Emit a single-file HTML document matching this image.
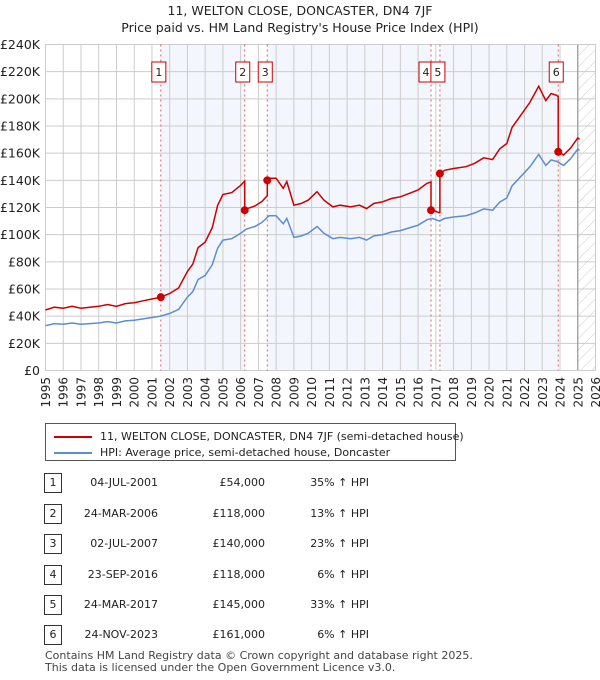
<!DOCTYPE html>
<html><head><meta charset="utf-8"><style>
body{margin:0;background:#fff;font-family:"Liberation Sans","DejaVu Sans",sans-serif;}
#wrap{position:relative;width:600px;height:680px;overflow:hidden;}
svg text{font-family:"DejaVu Sans","Liberation Sans",sans-serif;}
</style></head><body><div id="wrap">
<svg id="chart" width="600" height="680">
<text x="300" y="15" text-anchor="middle" font-size="12.5" fill="#222">11, WELTON CLOSE, DONCASTER, DN4 7JF</text>
<text x="300" y="32" text-anchor="middle" font-size="12.5" fill="#222">Price paid vs. HM Land Registry's House Price Index (HPI)</text>
</svg>
</div>
<script>
const hpiYears=[1995,1995.5,1996,1996.5,1997,1997.5,1998,1998.5,1999,1999.5,2000,2000.5,2001,2001.5,2002,2002.5,2003,2003.3,2003.6,2004,2004.4,2004.7,2005,2005.5,2006,2006.3,2006.8,2007.2,2007.6,2008,2008.4,2008.6,2009,2009.4,2009.8,2010.3,2010.7,2011.2,2011.6,2012.2,2012.7,2013.1,2013.5,2014,2014.5,2015,2015.5,2016,2016.5,2016.8,2017.2,2017.5,2018,2018.7,2019.2,2019.7,2020.2,2020.6,2021,2021.3,2021.8,2022.3,2022.8,2023.2,2023.5,2023.8,2024.2,2024.6,2025,2025.1];
const hpiValues=[33,34.5,34,35,34,34.5,35,36,35,36.5,37,38,39,40,42,45,54,58,67,70,78,90,96,97,101,104,106,109,114,114,108,112,98,99,101,106,101,97,98,97,98,96,99,100,102,103,105,107,111,112,110,112,113,114,116,119,118,124,127,136,143,150,159,151,155,154,151,156,163,162];
const saleYears=[2001.5,2006.23,2007.5,2016.73,2017.23,2023.9];
const salePrices=[54,118,140,118,145,161];
const saleLabels=["1","2","3","4","5","6"];
const yTicks=[0,20,40,60,80,100,120,140,160,180,200,220,240];
const yTickLabels=["£0","£20K","£40K","£60K","£80K","£100K","£120K","£140K","£160K","£180K","£200K","£220K","£240K"];
const xTicks=[1995,1996,1997,1998,1999,2000,2001,2002,2003,2004,2005,2006,2007,2008,2009,2010,2011,2012,2013,2014,2015,2016,2017,2018,2019,2020,2021,2022,2023,2024,2025,2026];
const dataEnd=2025.0;

const L=45.5,R=595.5,T=44.5,B=370.5;
const X=y=>L+(y-1995)/(2026-1995)*(R-L);
const Y=v=>B-v/240*(B-T);
const NS="http://www.w3.org/2000/svg";
const svg=document.getElementById('chart');
function mk(tag,attrs,parent){const e=document.createElementNS(NS,tag);for(const k in attrs)e.setAttribute(k,attrs[k]);(parent||svg).appendChild(e);return e;}
function hpiAt(t){for(let i=0;i<hpiYears.length-1;i++){if(t<=hpiYears[i+1]){const f=(t-hpiYears[i])/(hpiYears[i+1]-hpiYears[i]);return hpiValues[i]+f*(hpiValues[i+1]-hpiValues[i]);}}return hpiValues[hpiValues.length-1];}

const defs=mk('defs',{});
const pat=mk('pattern',{id:'hatch',width:8,height:8,patternUnits:'userSpaceOnUse',patternTransform:'rotate(45)'},defs);
mk('line',{x1:0,y1:0,x2:0,y2:8,stroke:'#ccc','stroke-width':1},pat);

const bg=mk('rect',{x:L,y:T,width:R-L,height:B-T,fill:'#fff'});


for(let i=0;i<saleYears.length;i+=2){
  const end=i+1<saleYears.length?saleYears[i+1]:dataEnd;
  const r=mk('rect',{x:X(saleYears[i]),y:T,width:X(end)-X(saleYears[i]),height:B-T,fill:'#f3f6fd'});
  
  
}
const h=mk('rect',{x:X(dataEnd),y:T,width:R-X(dataEnd),height:B-T,fill:'url(#hatch)'});



yTicks.forEach((v,i)=>{
  const g=mk('line',{x1:L,x2:R,y1:Y(v),y2:Y(v),stroke:'#cccccc','stroke-width':1});
  
  
  const t=mk('text',{x:40,y:Y(v)+4.5,'text-anchor':'end','font-size':12.5,fill:'#222'});
  t.textContent=yTickLabels[i];
  
  
});
xTicks.forEach((yr,i)=>{
  const g=mk('line',{x1:X(yr),x2:X(yr),y1:T,y2:B,stroke:'#cccccc','stroke-width':1});
  
  
  const tx=X(yr)+4.5,ty=377;
  const t=mk('text',{x:tx,y:ty,'text-anchor':'end','font-size':12,fill:'#222',transform:'rotate(-90 '+tx+' '+ty+')'});
  t.textContent=String(yr);
  
  
});
const dl=mk('line',{x1:X(dataEnd),x2:X(dataEnd),y1:T,y2:B,stroke:'#999','stroke-width':1.2});


const fr=mk('rect',{x:L,y:T,width:R-L,height:B-T,fill:'none',stroke:'#ccc'});



saleYears.forEach(s=>{
  const l=mk('line',{x1:X(s),x2:X(s),y1:T,y2:B,stroke:'#e06060','stroke-width':1,'stroke-dasharray':'2,3'});
  
  
});

const bp=hpiYears.map((y,i)=>X(y).toFixed(1)+','+Y(hpiValues[i]).toFixed(1)).join(' ');
const bl=mk('polyline',{points:bp,fill:'none',stroke:'#5b8ed0','stroke-width':1.5});



const ratios=saleYears.map((s,i)=>salePrices[i]/hpiAt(s));
let pts=[];
function ratioFor(t){let k=0;for(let i=0;i<saleYears.length;i++)if(saleYears[i]<=t)k=i;return ratios[k];}
let times=hpiYears.slice();
saleYears.forEach(s=>{times.push(s-0.001);times.push(s);});
times.sort((a,b)=>a-b);
times.forEach(t=>{pts.push(X(t).toFixed(1)+','+Y(hpiAt(t)*ratioFor(t)).toFixed(1));});
const rl=mk('polyline',{points:pts.join(' '),fill:'none',stroke:'#cc0000','stroke-width':1.5});



saleYears.forEach((s,i)=>{
  const c=mk('circle',{cx:X(s),cy:Y(salePrices[i]),r:4,fill:'#cc0000'});
  
  
});
saleYears.forEach((s,i)=>{
  const g=mk('g',{});
  
  
  const cx=X(s)-(i===3?5:2);
  mk('rect',{x:cx-7,y:62,width:14,height:20,fill:'#fff',stroke:'#cc0000','stroke-width':1},g);
  const t=mk('text',{x:cx,y:76,'text-anchor':'middle','font-size':11,fill:'#222'},g);
  t.textContent=saleLabels[i];
});
</script>

<div style="position:absolute;left:45px;top:423px;width:411px;height:38px;border:1px solid #555;box-sizing:border-box;font-family:'DejaVu Sans','Liberation Sans',sans-serif;font-size:11px;color:#222;">
 <div style="position:absolute;left:8px;top:6px;white-space:nowrap;"><span style="display:inline-block;width:38px;height:2px;background:#cc0000;vertical-align:middle;margin-right:8px;"></span>11, WELTON CLOSE, DONCASTER, DN4 7JF (semi-detached house)</div>
 <div style="position:absolute;left:8px;top:22px;white-space:nowrap;"><span style="display:inline-block;width:38px;height:2px;background:#5b8ed0;vertical-align:middle;margin-right:8px;"></span>HPI: Average price, semi-detached house, Doncaster</div>
</div>

<div style="position:absolute;left:0;top:0;font-family:'DejaVu Sans','Liberation Sans',sans-serif;font-size:11px;color:#222;">
<script>
const rows=[["1","04-JUL-2001","£54,000","35% ↑ HPI"],["2","24-MAR-2006","£118,000","13% ↑ HPI"],["3","02-JUL-2007","£140,000","23% ↑ HPI"],["4","23-SEP-2016","£118,000","6% ↑ HPI"],["5","24-MAR-2017","£145,000","33% ↑ HPI"],["6","24-NOV-2023","£161,000","6% ↑ HPI"]];
const tops=[473,504,534,565,595,625];
const tb=document.currentScript.parentNode;
rows.forEach((r,i)=>{
  const d=document.createElement('div');
  
  
  d.style.cssText='position:absolute;left:0;top:'+tops[i]+'px;width:600px;height:20px;';
  d.innerHTML='<span style="position:absolute;left:44px;top:0;width:16px;height:18px;border:1px solid #333;text-align:center;line-height:18px;">'+r[0]+'</span>'+
  '<span style="position:absolute;right:442px;top:3px;">'+r[1]+'</span>'+
  '<span style="position:absolute;right:335px;top:3px;">'+r[2]+'</span>'+
  '<span style="position:absolute;right:231px;top:3px;">'+r[3]+'</span>';
  tb.appendChild(d);
});
</script>
</div>
<div style="position:absolute;left:45px;top:650px;font-family:'DejaVu Sans','Liberation Sans',sans-serif;font-size:11px;color:#444;line-height:12px;">Contains HM Land Registry data © Crown copyright and database right 2025.<br>This data is licensed under the Open Government Licence v3.0.</div>
</body></html>
